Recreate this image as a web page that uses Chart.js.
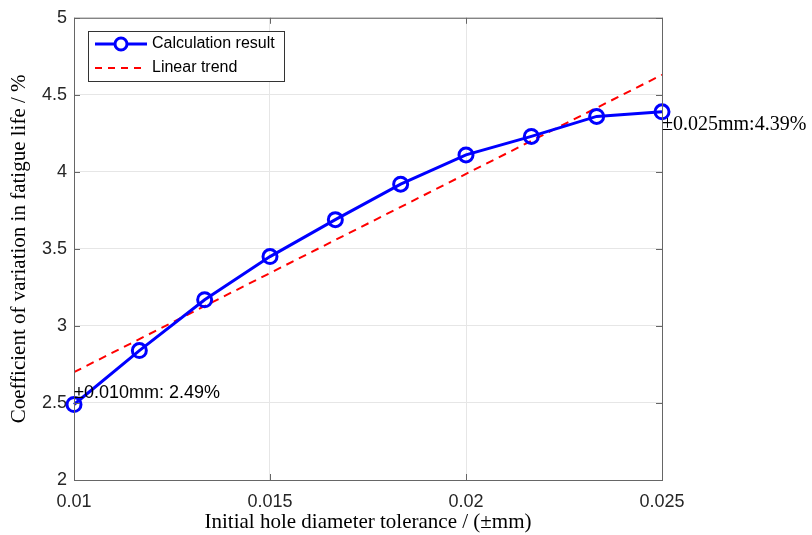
<!DOCTYPE html>
<html>
<head>
<meta charset="utf-8">
<script src="https://cdn.jsdelivr.net/npm/chart.js@4"></script>
<style>
    html, body { margin: 0; padding: 0; background: #fff; }
    #wrap { width: 812px; height: 535px; }
</style>
</head>
<body>
<div id="wrap"><canvas id="chart"></canvas></div>
<script>
// data
const tolerance = [0.01, 0.011667, 0.013333, 0.015, 0.016667, 0.018333, 0.02, 0.021667, 0.023333, 0.025];
const cvResult = [2.49, 2.84, 3.17, 3.45, 3.69, 3.92, 4.11, 4.23, 4.36, 4.39];
const trendX = [0.01, 0.025];
const trendY = [2.70, 4.63];
const xTicks = [0.01, 0.015, 0.02, 0.025];
const yTicks = [2, 2.5, 3, 3.5, 4, 4.5, 5];
const notes = [
    { idx: 0, text: '±0.010mm: 2.49%', font: '18px "Liberation Sans", Arial', dx: 0, dy: -11 },
    { idx: 9, text: '±0.025mm:4.39%', font: '20px "Liberation Serif", "Times New Roman"', dx: 0, dy: 13 }
];

const boxAndExtras = {
    id: 'boxAndExtras',
    afterDatasetsDraw(chart) {
        const ctx = chart.ctx;
        const a = chart.chartArea;
        const xs = chart.scales.x, ys = chart.scales.y;
        ctx.save();
        // axes box
        ctx.strokeStyle = '#666';
        ctx.lineWidth = 1;
        ctx.strokeRect(a.left + 0.5, a.top + 0.5, a.right - a.left, a.bottom - a.top);
        // inward tick marks
        ctx.beginPath();
        xTicks.forEach(v => {
            const px = Math.round(xs.getPixelForValue(v)) + 0.5;
            ctx.moveTo(px, a.bottom); ctx.lineTo(px, a.bottom - 6);
            ctx.moveTo(px, a.top); ctx.lineTo(px, a.top + 6);
        });
        yTicks.forEach(v => {
            const py = Math.round(ys.getPixelForValue(v)) + 0.5;
            ctx.moveTo(a.left, py); ctx.lineTo(a.left + 6, py);
            ctx.moveTo(a.right, py); ctx.lineTo(a.right - 6, py);
        });
        ctx.stroke();

        // data tips
        ctx.fillStyle = '#000';
        ctx.textAlign = 'left';
        ctx.textBaseline = 'middle';
        notes.forEach(n => {
            ctx.font = n.font;
            const px = xs.getPixelForValue(tolerance[n.idx]);
            const py = ys.getPixelForValue(cvResult[n.idx]);
            ctx.fillText(n.text, px + n.dx, py + n.dy);
        });

        // legend box
        const lx = 88, ly = 31, lw = 196, lh = 50;
        ctx.fillStyle = '#fff';
        ctx.fillRect(lx, ly, lw, lh);
        ctx.strokeStyle = '#333';
        ctx.lineWidth = 1;
        ctx.strokeRect(lx + 0.5, ly + 0.5, lw, lh);
        // row 1
        ctx.strokeStyle = '#0000ff';
        ctx.lineWidth = 3;
        ctx.beginPath();
        ctx.moveTo(95, 44); ctx.lineTo(147, 44);
        ctx.stroke();
        ctx.beginPath();
        ctx.arc(121, 44, 6, 0, Math.PI * 2);
        ctx.fillStyle = '#fff';
        ctx.fill();
        ctx.stroke();
        // row 2
        ctx.strokeStyle = '#ff0000';
        ctx.lineWidth = 2;
        ctx.setLineDash([7, 6]);
        ctx.beginPath();
        ctx.moveTo(95, 68); ctx.lineTo(147, 68);
        ctx.stroke();
        ctx.setLineDash([]);
        ctx.fillStyle = '#000';
        ctx.font = '16px "Liberation Sans", Arial';
        ctx.fillText('Calculation result', 152, 44);
        ctx.fillText('Linear trend', 152, 68);
        ctx.restore();
    }
};

new Chart(document.getElementById('chart'), {
    type: 'scatter',
    data: {
        datasets: [
            {
                label: 'Calculation result',
                data: tolerance.map((x, i) => ({ x: x, y: cvResult[i] })),
                showLine: true,
                clip: false,
                borderColor: '#0000ff',
                backgroundColor: '#ffffff',
                borderWidth: 3,
                pointRadius: 7,
                pointBorderWidth: 3,
                pointBorderColor: '#0000ff',
                pointBackgroundColor: 'rgba(255,255,255,0)',
                order: 1
            },
            {
                label: 'Linear trend',
                data: trendX.map((x, i) => ({ x: x, y: trendY[i] })),
                showLine: true,
                borderColor: '#ff0000',
                borderWidth: 2,
                borderDash: [8, 6],
                pointRadius: 0,
                order: 2
            }
        ]
    },
    options: {
        responsive: true,
        maintainAspectRatio: false,
        animation: false,
        layout: { padding: { top: 17, right: 150, left: 0, bottom: 0 } },
        plugins: {
            legend: { display: false },
            tooltip: { enabled: false }
        },
        scales: {
            x: {
                type: 'linear',
                min: 0.01,
                max: 0.025,
                afterBuildTicks: s => { s.ticks = xTicks.map(v => ({ value: v })); },
                afterFit: s => { s.height = 55; },
                ticks: {
                    color: '#262626',
                    font: { family: '"Liberation Sans", Arial', size: 18 },
                    padding: 11,
                    callback: v => String(v)
                },
                grid: { color: '#e6e6e6', drawTicks: false },
                border: { display: false },
                title: {
                    display: true,
                    text: 'Initial hole diameter tolerance / (±mm)',
                    color: '#000',
                    font: { family: '"Liberation Serif", "Times New Roman"', size: 21 },
                    padding: { top: 0, bottom: 0 }
                }
            },
            y: {
                min: 2,
                max: 5,
                afterBuildTicks: s => { s.ticks = yTicks.map(v => ({ value: v })); },
                afterFit: s => { s.width = 74; },
                ticks: {
                    color: '#262626',
                    font: { family: '"Liberation Sans", Arial', size: 18 },
                    padding: 7,
                    callback: v => String(v)
                },
                grid: { color: '#e6e6e6', drawTicks: false },
                border: { display: false },
                title: {
                    display: true,
                    text: 'Coefficient of variation in fatigue life / %',
                    color: '#000',
                    font: { family: '"Liberation Serif", "Times New Roman"', size: 21 },
                    padding: { top: 7, bottom: 0 }
                }
            }
        }
    },
    plugins: [boxAndExtras]
});
</script>
</body>
</html>
